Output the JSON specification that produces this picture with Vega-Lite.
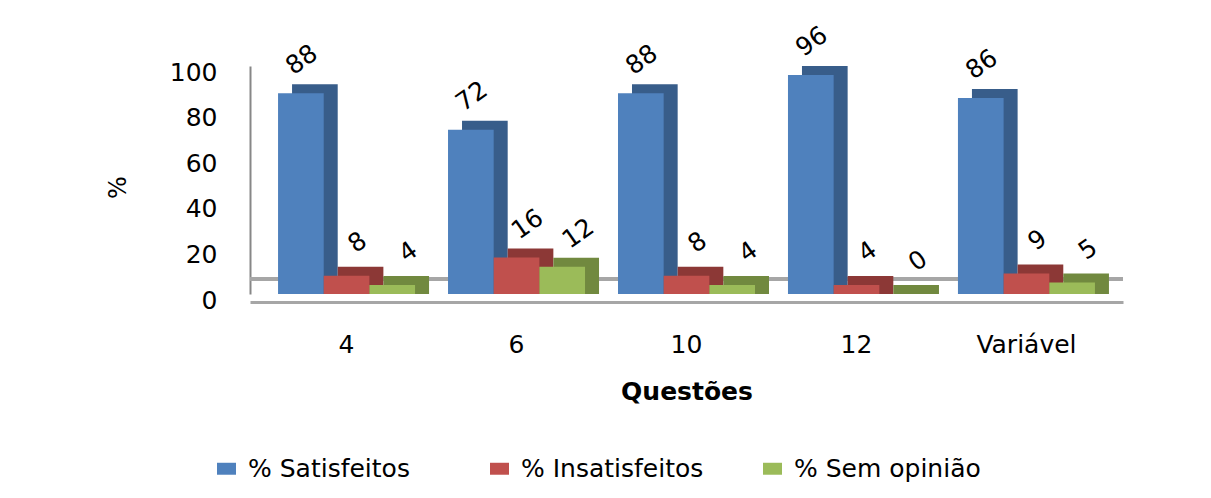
{
  "$schema": "https://vega.github.io/schema/vega-lite/v6.json",
  "width": 873,
  "height": 228,
  "autosize": "none",
  "padding": {"left": 250, "top": 66, "right": 88, "bottom": 204},
  "background": "white",
  "config": {
    "font": "DejaVu Sans",
    "view": {"stroke": null},
    "text": {"color": "black"}
  },
  "data": {
    "values": [
      {"questao": "4", "serie": "% Satisfeitos", "valor": 88},
      {"questao": "4", "serie": "% Insatisfeitos", "valor": 8},
      {"questao": "4", "serie": "% Sem opinião", "valor": 4},
      {"questao": "6", "serie": "% Satisfeitos", "valor": 72},
      {"questao": "6", "serie": "% Insatisfeitos", "valor": 16},
      {"questao": "6", "serie": "% Sem opinião", "valor": 12},
      {"questao": "10", "serie": "% Satisfeitos", "valor": 88},
      {"questao": "10", "serie": "% Insatisfeitos", "valor": 8},
      {"questao": "10", "serie": "% Sem opinião", "valor": 4},
      {"questao": "12", "serie": "% Satisfeitos", "valor": 96},
      {"questao": "12", "serie": "% Insatisfeitos", "valor": 4},
      {"questao": "12", "serie": "% Sem opinião", "valor": 0},
      {"questao": "Variável", "serie": "% Satisfeitos", "valor": 86},
      {"questao": "Variável", "serie": "% Insatisfeitos", "valor": 9},
      {"questao": "Variável", "serie": "% Sem opinião", "valor": 5}
    ]
  },
  "resolve": {"scale": {"x": "independent", "color": "independent"}},
  "layer": [
    {
      "description": "back edge of the floor",
      "mark": {"type": "rule", "color": "#a6a6a6", "strokeWidth": 3, "yOffset": -15},
      "encoding": {
        "y": {"datum": 0, "type": "quantitative", "scale": {"domain": [0, 100]}, "title": "%"}
      }
    },
    {
      "description": "depth of each column: a darker copy pushed back and up, showing as top and side faces",
      "mark": {"type": "bar", "yOffset": -9, "y2Offset": 0},
      "encoding": {
        "x": {
          "field": "questao", "type": "nominal", "axis": null,
          "scale": {"domain": ["4", "6", "10", "12", "Variável"], "range": [14, 887], "paddingInner": 0.194, "paddingOuter": 0.165}
        },
        "xOffset": {"field": "serie", "type": "nominal", "scale": {"domain": ["% Satisfeitos", "% Insatisfeitos", "% Sem opinião"]}},
        "y": {"field": "valor", "type": "quantitative", "stack": null, "title": "%"},
        "color": {
          "field": "serie", "type": "nominal", "legend": null,
          "scale": {"domain": ["% Satisfeitos", "% Insatisfeitos", "% Sem opinião"], "range": ["#385d8a", "#8c3836", "#71893f"]}
        }
      }
    },
    {
      "description": "front faces",
      "mark": {"type": "bar"},
      "encoding": {
        "x": {
          "field": "questao", "type": "nominal",
          "scale": {"domain": ["4", "6", "10", "12", "Variável"], "paddingInner": 0.194, "paddingOuter": 0.165},
          "axis": {
            "title": "Questões", "labelAngle": 0, "ticks": false, "offset": 8,
            "domainColor": "#a6a6a6", "domainWidth": 3,
            "labelPadding": 30, "labelFontSize": 25, "labelColor": "black",
            "titleFontSize": 25, "titleFontWeight": "bold", "titlePadding": 22, "titleColor": "black"
          }
        },
        "xOffset": {"field": "serie", "type": "nominal", "scale": {"domain": ["% Satisfeitos", "% Insatisfeitos", "% Sem opinião"]}},
        "y": {
          "field": "valor", "type": "quantitative", "stack": null,
          "scale": {"domain": [0, 100]},
          "axis": {
            "title": "%", "values": [0, 20, 40, 60, 80, 100], "grid": false, "ticks": false,
            "domainColor": "#878787", "domainWidth": 2,
            "labelPadding": 33, "labelOffset": 6, "labelFontSize": 25, "labelColor": "black",
            "titleFontSize": 24, "titleFontWeight": "normal", "titleColor": "black",
            "titleX": -132, "titleY": 121, "titleAngle": 270, "titleAlign": "center", "titleBaseline": "middle"
          }
        },
        "color": {
          "field": "serie", "type": "nominal",
          "scale": {"domain": ["% Satisfeitos", "% Insatisfeitos", "% Sem opinião"], "range": ["#4f81bd", "#c0504d", "#9bbb59"]},
          "legend": {
            "orient": "none", "legendX": -36, "legendY": 390, "direction": "horizontal", "title": null,
            "labelFontSize": 25, "labelColor": "black", "labelLimit": 400, "labelOffset": 9,
            "symbolType": "M-1,-0.63H1V0.63H-1Z", "symbolSize": 361, "symbolStrokeWidth": 0,
            "columnPadding": 52, "gridAlign": "all"
          }
        }
      }
    },
    {
      "description": "value labels, % Satisfeitos",
      "transform": [{"filter": "datum.serie === '% Satisfeitos'"}],
      "mark": {"type": "text", "angle": 325, "fontSize": 25, "dx": 20, "dy": -27, "align": "center", "baseline": "middle"},
      "encoding": {
        "x": {"field": "questao", "type": "nominal", "axis": null, "scale": {"domain": ["4", "6", "10", "12", "Variável"], "paddingInner": 0.194, "paddingOuter": 0.165}},
        "xOffset": {"field": "serie", "type": "nominal", "scale": {"domain": ["% Satisfeitos", "% Insatisfeitos", "% Sem opinião"]}},
        "y": {"field": "valor", "type": "quantitative", "title": "%"},
        "text": {"field": "valor", "type": "quantitative"}
      }
    },
    {
      "description": "value labels, % Insatisfeitos",
      "transform": [{"filter": "datum.serie === '% Insatisfeitos'"}],
      "mark": {"type": "text", "angle": 325, "fontSize": 25, "dx": 28, "dy": -21, "align": "center", "baseline": "middle"},
      "encoding": {
        "x": {"field": "questao", "type": "nominal", "axis": null, "scale": {"domain": ["4", "6", "10", "12", "Variável"], "paddingInner": 0.194, "paddingOuter": 0.165}},
        "xOffset": {"field": "serie", "type": "nominal", "scale": {"domain": ["% Satisfeitos", "% Insatisfeitos", "% Sem opinião"]}},
        "y": {"field": "valor", "type": "quantitative", "title": "%"},
        "text": {"field": "valor", "type": "quantitative"}
      }
    },
    {
      "description": "value labels, % Sem opinião",
      "transform": [{"filter": "datum.serie === '% Sem opinião'"}],
      "mark": {"type": "text", "angle": 325, "fontSize": 25, "dx": 32, "dy": -18, "align": "center", "baseline": "middle"},
      "encoding": {
        "x": {"field": "questao", "type": "nominal", "axis": null, "scale": {"domain": ["4", "6", "10", "12", "Variável"], "paddingInner": 0.194, "paddingOuter": 0.165}},
        "xOffset": {"field": "serie", "type": "nominal", "scale": {"domain": ["% Satisfeitos", "% Insatisfeitos", "% Sem opinião"]}},
        "y": {"field": "valor", "type": "quantitative", "title": "%"},
        "text": {"field": "valor", "type": "quantitative"}
      }
    }
  ]
}
